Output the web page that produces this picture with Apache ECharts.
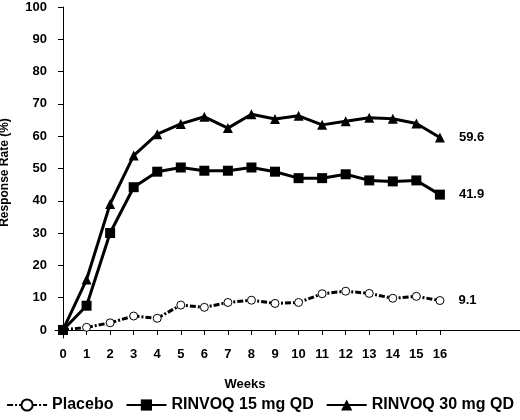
<!DOCTYPE html><html><head><meta charset="utf-8"><script src="https://cdn.jsdelivr.net/npm/echarts@6/dist/echarts.min.js"></script></head><body style="margin:0"><div id="c" style="width:520px;height:420px"></div><script>
const weeks=[0,1,2,3,4,5,6,7,8,9,10,11,12,13,14,15,16];
const placebo=[0,0.8,2.2,4.3,3.6,7.7,7.0,8.5,9.2,8.2,8.5,11.2,12.0,11.3,9.8,10.4,9.1];
const r15=[0,7.5,30,44.2,49,50.3,49.3,49.3,50.3,49,47,47,48.2,46.3,46,46.3,41.9];
const r30=[0,15.6,39,54,60.6,63.8,66,62.5,66.8,65.3,66.3,63.5,64.6,65.7,65.4,63.9,59.6];
const yTicks=[0,10,20,30,40,50,60,70,80,90,100];
const F='Liberation Sans';
const pair=a=>a.map((v,i)=>[weeks[i],v]);
const endLbl={show:true,position:'right',distance:14,fontFamily:F,fontWeight:'bold',fontSize:13,color:'#000',formatter:p=>p.dataIndex===16?p.value[1].toFixed(1):''};
const c=echarts.init(document.getElementById('c'));
c.setOption({animation:false,
grid:{left:55,right:0,top:7,bottom:82,containLabel:false,outerBoundsMode:'none'},
legend:{bottom:2,left:'center',itemGap:12,itemWidth:40,textStyle:{fontFamily:F,fontWeight:'bold',fontSize:16,color:'#000'}},
xAxis:{type:'value',min:-0.34,max:19.4,name:'Weeks',nameLocation:'middle',nameGap:40,nameTextStyle:{fontFamily:F,fontWeight:'bold',fontSize:13,color:'#000',padding:[0,85,0,0]},
axisLine:{lineStyle:{color:'#000',width:1}},splitLine:{show:false},
axisTick:{customValues:weeks,length:5,lineStyle:{color:'#000'}},
axisLabel:{customValues:weeks,fontFamily:F,fontWeight:'bold',fontSize:13,color:'#000',margin:10}},
yAxis:{type:'value',min:-2.5,max:100,name:'Response Rate (%)',nameLocation:'middle',nameGap:44,nameTextStyle:{fontFamily:F,fontWeight:'bold',fontSize:12,color:'#000'},
axisLine:{show:true,lineStyle:{color:'#000',width:1}},splitLine:{show:false},
axisTick:{show:true,customValues:yTicks,length:5,lineStyle:{color:'#000'}},
axisLabel:{customValues:yTicks,fontFamily:F,fontWeight:'bold',fontSize:13,color:'#000'}},
series:[
{name:'Placebo',type:'line',data:pair(placebo),symbol:'circle',symbolSize:8,itemStyle:{color:'#fff',borderColor:'#000',borderWidth:1},lineStyle:{color:'#000',width:3,type:[6,2,2,2]},label:endLbl},
{name:'RINVOQ 15 mg QD',type:'line',data:pair(r15),symbol:'rect',symbolSize:10,itemStyle:{color:'#000'},lineStyle:{color:'#000',width:3},label:endLbl},
{name:'RINVOQ 30 mg QD',type:'line',data:pair(r30),symbol:'triangle',symbolSize:10,itemStyle:{color:'#000'},lineStyle:{color:'#000',width:3},label:endLbl}
]});
</script></body></html>
